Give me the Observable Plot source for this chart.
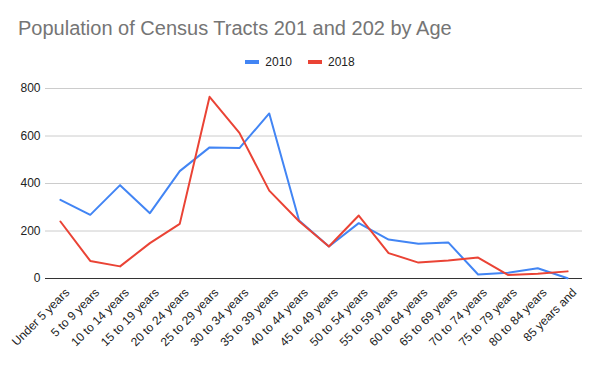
<!DOCTYPE html>
<html>
<head>
<meta charset="utf-8">
<script src="https://cdn.jsdelivr.net/npm/d3@7"></script>
<script src="https://cdn.jsdelivr.net/npm/@observablehq/plot@0.6"></script>
<style>
  html, body { margin: 0; padding: 0; background: #fff; }
  #wrap { position: relative; width: 600px; height: 371px; overflow: hidden; font-family: "Liberation Sans", Arial, sans-serif; }
  #title { position: absolute; left: 18px; top: 17px; font-size: 20px; color: #757575; white-space: nowrap; }
  #legend { position: absolute; left: 0; top: 55px; width: 600px; display: flex; justify-content: center; font-size: 12px; color: #222; }
  .item { display: flex; align-items: center; margin: 0 8px; }
  .sw { width: 14px; height: 4px; margin-right: 6px; }
  #chart { position: absolute; left: 0; top: 76px; }
</style>
</head>
<body>
<div id="wrap">
  <div id="title">Population of Census Tracts 201 and 202 by Age</div>
  <div id="legend"></div>
  <div id="chart"></div>
</div>
<script>
const categories = ["Under 5 years","5 to 9 years","10 to 14 years","15 to 19 years","20 to 24 years","25 to 29 years","30 to 34 years","35 to 39 years","40 to 44 years","45 to 49 years","50 to 54 years","55 to 59 years","60 to 64 years","65 to 69 years","70 to 74 years","75 to 79 years","80 to 84 years","85 years and"];
const series = ["2010", "2018"];
const values2010 = [331, 268, 393, 275, 452, 552, 549, 695, 244, 135, 233, 164, 146, 152, 17, 24, 43, 1];
const values2018 = [240, 74, 51, 149, 230, 765, 613, 370, 241, 135, 265, 107, 67, 76, 88, 15, 20, 30];
const colors = ["#4285f4", "#ea4335"];
const yTicks = [0, 200, 400, 600, 800];

const data = [];
categories.forEach((c, i) => {
  data.push({age: c, year: series[0], value: values2010[i]});
  data.push({age: c, year: series[1], value: values2018[i]});
});

const legend = document.getElementById("legend");
series.forEach((s, i) => {
  const it = document.createElement("div");
  it.className = "item";
  it.innerHTML = `<span class="sw" style="background:${colors[i]}"></span><span>${s}</span>`;
  legend.appendChild(it);
});

const chart = Plot.plot({
  width: 600,
  height: 295,
  marginTop: 12,
  marginBottom: 93,
  marginLeft: 45,
  marginRight: 18,
  style: {fontFamily: "'Liberation Sans', Arial, sans-serif", fontSize: "12px", color: "#222", background: "#fff"},
  x: {type: "point", domain: categories, padding: 0.5, round: false, label: null},
  y: {domain: [0, 800], label: null},
  color: {domain: series, range: colors},
  marks: [
    Plot.ruleY(yTicks.filter(d => d > 0), {stroke: "#cccccc", strokeWidth: 1}),
    Plot.axisY(yTicks, {tickSize: 0, tickPadding: 5, label: null}),
    Plot.axisX({tickSize: 0, tickRotate: -45, tickPadding: 6, dx: 7, dy: 6, label: null}),
    Plot.ruleY([0], {stroke: "#333", strokeWidth: 1}),
    Plot.line(data, {x: "age", y: "value", z: "year", stroke: "year", strokeWidth: 2, curve: "linear"})
  ]
});
document.getElementById("chart").appendChild(chart);
</script>
</body>
</html>
